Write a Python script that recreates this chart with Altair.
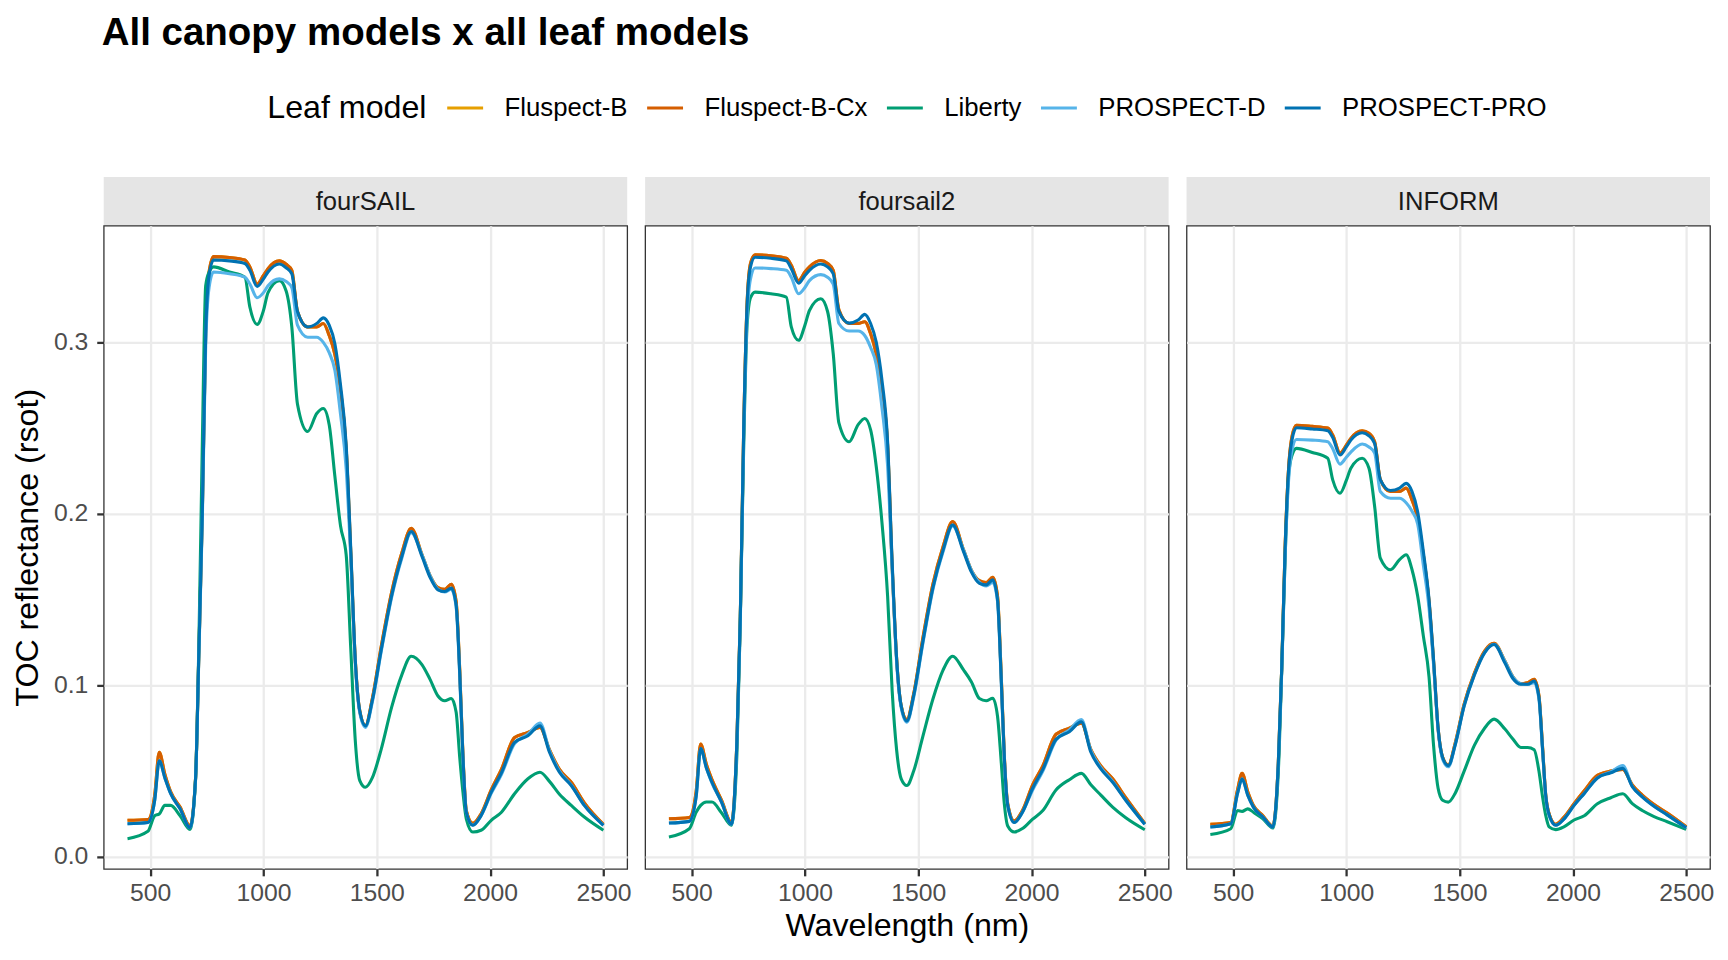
import altair as alt
import pandas as pd

# ---------------- data ----------------
WAVELENGTH = [400, 490, 520, 540, 565, 590, 632, 676, 700, 715,
              730, 745, 760, 780, 850, 918, 940, 972, 1000, 1020,
              1070, 1100, 1125, 1150, 1195, 1235, 1264, 1290, 1315, 1340,
              1365, 1385, 1405, 1425, 1450, 1480, 1520, 1565, 1610, 1652,
              1700, 1735, 1770, 1800, 1829, 1850, 1866, 1880, 1895, 1924,
              1960, 2005, 2050, 2108, 2167, 2220, 2262, 2306, 2358, 2416, 2500]

CANOPY_MODELS = ["fourSAIL", "foursail2", "INFORM"]
LEAF_MODELS = ["Fluspect-B", "Fluspect-B-Cx", "Liberty", "PROSPECT-D", "PROSPECT-PRO"]
LEAF_COLORS = ["#E69F00", "#D55E00", "#009E73", "#56B4E9", "#0072B2"]
X_TICKS = [500, 1000, 1500, 2000, 2500]
Y_TICKS = [0.0, 0.1, 0.2, 0.3]

# fourSAIL
FOURSAIL_FLUSPECT_B = [0.0213, 0.0218, 0.036, 0.061, 0.048, 0.038, 0.029, 0.018, 0.045, 0.120,
                       0.200, 0.306, 0.341, 0.350, 0.3495, 0.348, 0.344, 0.334, 0.339, 0.343,
                       0.3475, 0.3455, 0.342, 0.318, 0.309, 0.309, 0.311, 0.304, 0.293, 0.272,
                       0.238, 0.178, 0.115, 0.085, 0.0765, 0.092, 0.123, 0.154, 0.177, 0.1916,
                       0.176, 0.164, 0.157, 0.156, 0.159, 0.149, 0.109, 0.060, 0.027, 0.0195,
                       0.025, 0.039, 0.051, 0.0696, 0.0725, 0.0755, 0.0625, 0.051, 0.0435, 0.0315, 0.019]
FOURSAIL_FLUSPECT_B_CX = [0.0213, 0.0218, 0.036, 0.061, 0.048, 0.038, 0.029, 0.018, 0.045, 0.120,
                          0.200, 0.306, 0.341, 0.350, 0.3495, 0.348, 0.344, 0.334, 0.339, 0.343,
                          0.3475, 0.3455, 0.342, 0.318, 0.309, 0.309, 0.311, 0.304, 0.293, 0.272,
                          0.238, 0.178, 0.115, 0.085, 0.0765, 0.092, 0.123, 0.154, 0.177, 0.1916,
                          0.176, 0.164, 0.157, 0.156, 0.159, 0.149, 0.109, 0.060, 0.027, 0.0195,
                          0.025, 0.039, 0.051, 0.0696, 0.0725, 0.0755, 0.0625, 0.051, 0.0435, 0.0315, 0.019]
FOURSAIL_LIBERTY = [0.0106, 0.0149, 0.024, 0.025, 0.030, 0.030, 0.024, 0.016, 0.045, 0.125,
                    0.240, 0.333, 0.341, 0.344, 0.341, 0.338, 0.3205, 0.3105, 0.3186, 0.329,
                    0.336, 0.330, 0.309, 0.264, 0.248, 0.2585, 0.2614, 0.252, 0.222, 0.193,
                    0.176, 0.122, 0.068, 0.0445, 0.0406, 0.046, 0.063, 0.087, 0.106, 0.117,
                    0.112, 0.1035, 0.0938, 0.091, 0.0923, 0.0845, 0.058, 0.038, 0.0222, 0.0145,
                    0.0155, 0.0213, 0.026, 0.0368, 0.0455, 0.0493, 0.044, 0.0365, 0.030, 0.0232, 0.0155]
FOURSAIL_PROSPECT_D = [0.0193, 0.0200, 0.033, 0.056, 0.046, 0.037, 0.028, 0.017, 0.044, 0.118,
                       0.196, 0.298, 0.332, 0.341, 0.340, 0.338, 0.334, 0.326, 0.329, 0.333,
                       0.337, 0.3355, 0.332, 0.310, 0.303, 0.303, 0.300, 0.294, 0.2837, 0.258,
                       0.226, 0.175, 0.113, 0.084, 0.0755, 0.090, 0.120, 0.151, 0.174, 0.189,
                       0.176, 0.164, 0.156, 0.1545, 0.156, 0.146, 0.106, 0.058, 0.026, 0.0185,
                       0.024, 0.037, 0.048, 0.066, 0.0715, 0.078, 0.062, 0.050, 0.042, 0.030, 0.0185]
FOURSAIL_PROSPECT_PRO = [0.0193, 0.0200, 0.033, 0.056, 0.046, 0.037, 0.028, 0.017, 0.045, 0.120,
                         0.200, 0.305, 0.339, 0.348, 0.3475, 0.346, 0.342, 0.3326, 0.337, 0.341,
                         0.3457, 0.3435, 0.340, 0.318, 0.309, 0.311, 0.3143, 0.310, 0.2992, 0.275,
                         0.240, 0.180, 0.115, 0.085, 0.0764, 0.091, 0.121, 0.152, 0.175, 0.1897,
                         0.175, 0.163, 0.1557, 0.1547, 0.1567, 0.147, 0.107, 0.059, 0.026, 0.0184,
                         0.024, 0.0377, 0.049, 0.0667, 0.0706, 0.0764, 0.061, 0.0493, 0.0416, 0.030, 0.0184]

# foursail2
FOURSAIL2_FLUSPECT_B = [0.0222, 0.023, 0.038, 0.0658, 0.054, 0.045, 0.033, 0.020, 0.068, 0.140,
                        0.250, 0.323, 0.346, 0.351, 0.3505, 0.349, 0.345, 0.336, 0.341, 0.344,
                        0.3477, 0.346, 0.342, 0.319, 0.311, 0.311, 0.312, 0.305, 0.293, 0.273,
                        0.240, 0.170, 0.115, 0.088, 0.080, 0.095, 0.127, 0.159, 0.181, 0.1955,
                        0.179, 0.167, 0.161, 0.160, 0.163, 0.152, 0.107, 0.059, 0.031, 0.021,
                        0.027, 0.042, 0.053, 0.0715, 0.075, 0.078, 0.0625, 0.053, 0.0455, 0.0345, 0.0195]
FOURSAIL2_FLUSPECT_B_CX = [0.0222, 0.023, 0.038, 0.0658, 0.054, 0.045, 0.033, 0.020, 0.068, 0.140,
                           0.250, 0.323, 0.346, 0.351, 0.3505, 0.349, 0.345, 0.336, 0.341, 0.344,
                           0.3477, 0.346, 0.342, 0.319, 0.311, 0.311, 0.312, 0.305, 0.293, 0.273,
                           0.240, 0.170, 0.115, 0.088, 0.080, 0.095, 0.127, 0.159, 0.181, 0.1955,
                           0.179, 0.167, 0.161, 0.160, 0.163, 0.152, 0.107, 0.059, 0.031, 0.021,
                           0.027, 0.042, 0.053, 0.0715, 0.075, 0.078, 0.0625, 0.053, 0.0455, 0.0345, 0.0195]
FOURSAIL2_LIBERTY = [0.0116, 0.0164, 0.026, 0.030, 0.032, 0.032, 0.0257, 0.0184, 0.060, 0.140,
                     0.240, 0.310, 0.326, 0.3293, 0.3283, 0.3264, 0.309, 0.3012, 0.310, 0.3186,
                     0.3254, 0.318, 0.2934, 0.253, 0.242, 0.252, 0.2556, 0.249, 0.2275, 0.195,
                     0.152, 0.097, 0.062, 0.0455, 0.0416, 0.050, 0.070, 0.092, 0.109, 0.117,
                     0.109, 0.102, 0.0923, 0.091, 0.0925, 0.082, 0.056, 0.031, 0.018, 0.0145,
                     0.0165, 0.022, 0.027, 0.039, 0.045, 0.0487, 0.042, 0.036, 0.029, 0.0228, 0.0158]
FOURSAIL2_PROSPECT_D = [0.0197, 0.0207, 0.035, 0.063, 0.052, 0.043, 0.032, 0.019, 0.066, 0.137,
                        0.245, 0.315, 0.337, 0.3434, 0.343, 0.342, 0.338, 0.3283, 0.332, 0.336,
                        0.3395, 0.338, 0.334, 0.311, 0.3066, 0.3066, 0.304, 0.297, 0.287, 0.262,
                        0.228, 0.168, 0.113, 0.087, 0.0785, 0.093, 0.124, 0.156, 0.178, 0.193,
                        0.179, 0.167, 0.160, 0.158, 0.160, 0.149, 0.104, 0.057, 0.030, 0.020,
                        0.026, 0.039, 0.050, 0.068, 0.074, 0.080, 0.062, 0.052, 0.044, 0.033, 0.019]
FOURSAIL2_PROSPECT_PRO = [0.0197, 0.0207, 0.035, 0.0632, 0.052, 0.0435, 0.0319, 0.019, 0.068, 0.140,
                          0.250, 0.322, 0.344, 0.3496, 0.349, 0.3475, 0.343, 0.3345, 0.339, 0.342,
                          0.3457, 0.344, 0.340, 0.318, 0.3112, 0.313, 0.3163, 0.311, 0.300, 0.278,
                          0.242, 0.172, 0.115, 0.088, 0.0793, 0.094, 0.125, 0.157, 0.179, 0.1936,
                          0.178, 0.166, 0.1595, 0.1586, 0.1615, 0.150, 0.105, 0.058, 0.030, 0.020,
                          0.026, 0.040, 0.051, 0.0685, 0.073, 0.0787, 0.061, 0.0513, 0.0435, 0.033, 0.019]

# INFORM
INFORM_FLUSPECT_B = [0.019, 0.020, 0.039, 0.0487, 0.038, 0.030, 0.024, 0.018, 0.055, 0.110,
                     0.181, 0.226, 0.245, 0.2517, 0.251, 0.250, 0.246, 0.2355, 0.240, 0.244,
                     0.2484, 0.247, 0.242, 0.220, 0.213, 0.213, 0.215, 0.208, 0.197, 0.176,
                     0.149, 0.114, 0.075, 0.058, 0.0535, 0.066, 0.089, 0.107, 0.120, 0.1245,
                     0.114, 0.105, 0.101, 0.1015, 0.1035, 0.094, 0.064, 0.036, 0.025, 0.019,
                     0.023, 0.031, 0.0385, 0.0475, 0.050, 0.051, 0.042, 0.036, 0.0305, 0.0255, 0.0175]
INFORM_FLUSPECT_B_CX = [0.019, 0.020, 0.039, 0.0487, 0.038, 0.030, 0.024, 0.018, 0.055, 0.110,
                        0.181, 0.226, 0.245, 0.2517, 0.251, 0.250, 0.246, 0.2355, 0.240, 0.244,
                        0.2484, 0.247, 0.242, 0.220, 0.213, 0.213, 0.215, 0.208, 0.197, 0.176,
                        0.149, 0.114, 0.075, 0.058, 0.0535, 0.066, 0.089, 0.107, 0.120, 0.1245,
                        0.114, 0.105, 0.101, 0.1015, 0.1035, 0.094, 0.064, 0.036, 0.025, 0.019,
                        0.023, 0.031, 0.0385, 0.0475, 0.050, 0.051, 0.042, 0.036, 0.0305, 0.0255, 0.0175]
INFORM_LIBERTY = [0.013, 0.0164, 0.027, 0.0265, 0.028, 0.026, 0.0222, 0.0168, 0.050, 0.110,
                  0.175, 0.222, 0.234, 0.2382, 0.2358, 0.2324, 0.2198, 0.212, 0.2195, 0.2266,
                  0.2324, 0.2266, 0.2043, 0.1742, 0.1674, 0.1733, 0.1762, 0.1674, 0.1519, 0.1287,
                  0.105, 0.065, 0.040, 0.033, 0.0319, 0.037, 0.050, 0.065, 0.075, 0.0803,
                  0.0745, 0.0687, 0.0638, 0.0638, 0.0625, 0.050, 0.035, 0.0242, 0.0175, 0.0159,
                  0.0175, 0.0215, 0.024, 0.031, 0.0345, 0.0368, 0.031, 0.027, 0.0235, 0.0205, 0.016]
INFORM_PROSPECT_D = [0.0174, 0.0193, 0.037, 0.0455, 0.036, 0.029, 0.0232, 0.0174, 0.054, 0.108,
                     0.175, 0.219, 0.237, 0.2434, 0.243, 0.242, 0.238, 0.229, 0.233, 0.236,
                     0.2407, 0.239, 0.2355, 0.213, 0.2091, 0.2091, 0.2065, 0.2015, 0.194, 0.170,
                     0.145, 0.112, 0.074, 0.057, 0.0525, 0.065, 0.088, 0.106, 0.119, 0.124,
                     0.114, 0.105, 0.101, 0.1005, 0.1015, 0.092, 0.062, 0.035, 0.024, 0.0184,
                     0.022, 0.030, 0.037, 0.046, 0.0495, 0.0532, 0.041, 0.035, 0.0295, 0.0245, 0.017]
INFORM_PROSPECT_PRO = [0.0174, 0.0193, 0.037, 0.0455, 0.036, 0.029, 0.0232, 0.0174, 0.055, 0.110,
                       0.180, 0.225, 0.243, 0.2502, 0.2495, 0.2485, 0.2445, 0.2343, 0.239, 0.243,
                       0.2473, 0.2455, 0.241, 0.220, 0.2136, 0.215, 0.2178, 0.213, 0.201, 0.178,
                       0.150, 0.115, 0.075, 0.058, 0.0532, 0.065, 0.088, 0.106, 0.119, 0.1238,
                       0.113, 0.104, 0.1006, 0.1006, 0.1025, 0.093, 0.063, 0.0358, 0.0245, 0.0184,
                       0.022, 0.030, 0.037, 0.046, 0.049, 0.0516, 0.041, 0.035, 0.0295, 0.0245, 0.017]

SERIES = {
    "fourSAIL": [FOURSAIL_FLUSPECT_B, FOURSAIL_FLUSPECT_B_CX, FOURSAIL_LIBERTY,
                 FOURSAIL_PROSPECT_D, FOURSAIL_PROSPECT_PRO],
    "foursail2": [FOURSAIL2_FLUSPECT_B, FOURSAIL2_FLUSPECT_B_CX, FOURSAIL2_LIBERTY,
                  FOURSAIL2_PROSPECT_D, FOURSAIL2_PROSPECT_PRO],
    "INFORM": [INFORM_FLUSPECT_B, INFORM_FLUSPECT_B_CX, INFORM_LIBERTY,
               INFORM_PROSPECT_D, INFORM_PROSPECT_PRO],
}

rows = []
for canopy in CANOPY_MODELS:
    for leaf, values in zip(LEAF_MODELS, SERIES[canopy]):
        if len(values) != len(WAVELENGTH):
            raise ValueError(f"{canopy}/{leaf}: {len(values)} values")
        for k, (w, v) in enumerate(zip(WAVELENGTH, values)):
            rows.append({"canopy": canopy, "leaf": leaf, "order": k,
                         "wavelength": w, "rsot": v})
df = pd.DataFrame(rows)

# ---------------- layout ----------------
FONT = "Liberation Sans"
PW, PH, SH = 525, 645, 49
X_DOMAIN = [295, 2605]
Y_DOMAIN = [-0.007, 0.368]

legend = alt.Legend(
    title="Leaf model", orient="none", legendX=164, legendY=-89,
    direction="horizontal", titleOrient="left",
    titleAnchor="middle", titleBaseline="line-top", titleLineHeight=10,
    symbolType="stroke", symbolSize=1296, symbolStrokeWidth=3.0,
    labelFontSize=25.8, titleFontSize=32.3, titleFontWeight="normal",
    labelFont=FONT, titleFont=FONT, labelColor="#000000", titleColor="#000000",
    labelOffset=20, columnPadding=12.5, titlePadding=19, labelLimit=400,
)

strips = []
panels = []
for i, canopy in enumerate(CANOPY_MODELS):
    strip_df = pd.DataFrame({"canopy": [canopy]})
    strip_bg = alt.Chart(strip_df).mark_rect(color="#E5E5E5").encode(
        x=alt.value(0), x2=alt.value(PW), y=alt.value(0), y2=alt.value(SH))
    strip_txt = alt.Chart(strip_df).mark_text(
        font=FONT, fontSize=25.7, color="#1A1A1A", baseline="middle", align="center"
    ).encode(x=alt.value(PW / 2), y=alt.value(SH / 2 + 1), text="canopy:N")
    strips.append(alt.layer(strip_bg, strip_txt).properties(
        width=PW, height=SH, view=alt.ViewBackground(stroke="transparent")))

    x_axis = alt.Axis(values=X_TICKS, format="d",
                      title="Wavelength (nm)" if i == 1 else None,
                      labelFlush=False)
    if i == 0:
        y_axis = alt.Axis(values=Y_TICKS, format=".1f", title="TOC reflectance (rsot)")
    else:
        y_axis = alt.Axis(values=Y_TICKS, labels=False, ticks=False, title=None)

    panels.append(alt.Chart(df[df["canopy"] == canopy]).mark_line(
        strokeWidth=3.1, interpolate="monotone"
    ).encode(
        x=alt.X("wavelength:Q", scale=alt.Scale(domain=X_DOMAIN, nice=False, zero=False), axis=x_axis),
        y=alt.Y("rsot:Q", scale=alt.Scale(domain=Y_DOMAIN, nice=False, zero=False), axis=y_axis),
        color=alt.Color("leaf:N", scale=alt.Scale(domain=LEAF_MODELS, range=LEAF_COLORS), legend=legend),
        order=alt.Order("order:Q"),
    ).properties(width=PW, height=PH))

chart = alt.concat(
    *strips, *panels, columns=3,
    spacing=alt.RowColnumber(row=0, column=18), bounds="flush",
).properties(
    title=alt.TitleParams(
        "All canopy models x all leaf models", anchor="start", frame="group", font=FONT,
        fontSize=38.6, fontWeight="bold", color="#000000", offset=35, dx=-2),
    padding={"left": 2, "top": 4, "right": 5, "bottom": 5},
).configure_view(
    stroke="#333333", strokeWidth=1.3
).configure_axis(
    labelFont=FONT, titleFont=FONT, labelFontSize=24.8, titleFontSize=32.3,
    labelColor="#4D4D4D", titleColor="#000000", titleFontWeight="normal",
    domain=False, tickColor="#333333", tickWidth=2.3, tickSize=7,
    gridColor="#EBEBEB", gridWidth=2.3,
).configure_axisX(
    labelPadding=5, titlePadding=4,
).configure_axisY(
    labelPadding=9, titlePadding=9,
)

chart.save("out.html", embed_options={"renderer": "svg", "actions": False})
